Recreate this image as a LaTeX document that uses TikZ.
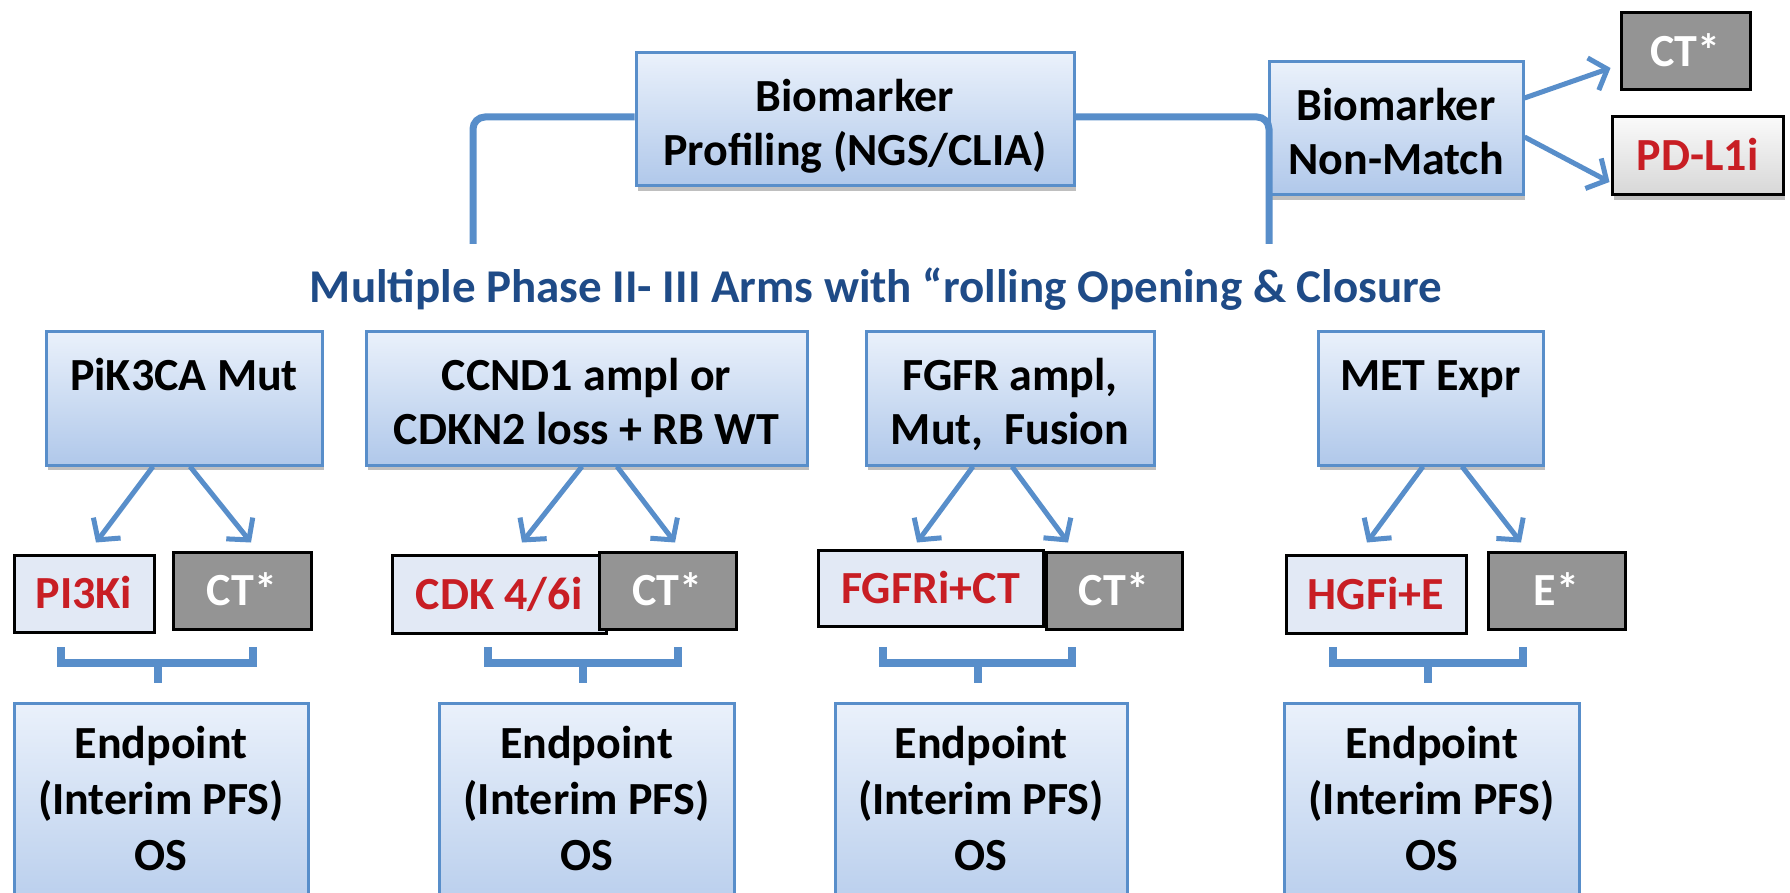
\documentclass[tikz,border=0pt]{standalone}
\usepackage{fontspec}
\setmainfont{Carlito}
\usetikzlibrary{arrows.meta,shadows,calc}
\definecolor{lnblue}{RGB}{88,142,202}
\definecolor{bxtop}{RGB}{234,241,251}
\definecolor{bxbot}{RGB}{176,200,234}
\definecolor{drugred}{RGB}{200,30,36}
\definecolor{armgray}{RGB}{148,148,148}
\definecolor{lightfill}{RGB}{226,233,245}
\definecolor{titleblue}{RGB}{31,75,135}
\definecolor{pdtop}{RGB}{250,250,250}
\definecolor{pdbot}{RGB}{215,215,215}
\newcommand\ls{\rule[-12pt]{0pt}{62pt}}
\newcommand\sls{\rule[-10pt]{0pt}{50pt}}
\newcommand\brkt[3]{%
  \draw[brk] (#1,647) |- (#2,663) -- (#2,647);
  \draw[brk] (#3,663) -- (#3,683);}
\tikzset{
  bigfont/.style={font=\bfseries\fontsize{46}{54}\selectfont},
  epfont/.style={font=\bfseries\fontsize{46}{56}\selectfont},
  shd/.style={drop shadow={shadow xshift=2pt, shadow yshift=-5pt, fill=black!55, opacity=0.45}},
  bluebox/.style={draw=lnblue, line width=3pt, top color=bxtop, bottom color=bxbot,
    inner sep=0pt, align=center, bigfont, shd},
  epbox/.style={bluebox, epfont},
  drugbox/.style={draw=black, line width=3pt, fill=lightfill, text=drugred,
    inner sep=0pt, align=center, bigfont},
  ctlbox/.style={draw=black, line width=3pt, fill=armgray, text=white,
    inner sep=0pt, align=center, bigfont},
  pdbox/.style={draw=black, line width=3pt, top color=pdtop, bottom color=pdbot, text=drugred,
    inner sep=0pt, align=center, bigfont, shd},
  conn/.style={draw=lnblue, line width=7pt},
  arr/.style={draw=lnblue, line width=5pt, -{Straight Barb[length=15pt,width=34pt]}},
  brk/.style={draw=lnblue, line width=8pt},
  ttl/.style={text=titleblue, font=\bfseries\fontsize{47}{54}\selectfont, inner sep=0pt},
}
\begin{document}
\lineskiplimit=-1000pt\relax
\begin{tikzpicture}[x=1pt,y=-1pt]
\useasboundingbox (0,0) rectangle (1790,893);
\clip (0,0) rectangle (1790,893);
\fill[white] (0,0) rectangle (1790,893);

% top row
\node[bluebox, minimum width=438pt, minimum height=133pt] (prof) at (855,119.5)
  {Biomarker\ls\\Profiling (NGS/CLIA)\ls};
\node[bluebox, minimum width=254pt, minimum height=133pt] (nonm) at (1396,128.5)
  {Biomarker\ls\\Non-Match\ls};
\node[ctlbox, minimum width=129pt, minimum height=77pt] (cttop) at (1685.5,51.5) {CT*\sls};
\node[pdbox, minimum width=171pt, minimum height=78pt] (pdl) at (1697.5,156) {PD-L1i\sls};

% title
\node[ttl, anchor=base] (title) at (876,302)
  {Multiple Phase II- III Arms with “rolling Opening \& Closure};

% arm boxes
\node[bluebox, minimum width=276pt, minimum height=134pt] (pik) at (184,398)
  {PiK3CA Mut\ls\\\ls};
\node[bluebox, minimum width=441pt, minimum height=134pt] (ccnd) at (586.5,398)
  {CCND1 ampl or\ls\\CDKN2 loss + RB WT\ls};
\node[bluebox, minimum width=288pt, minimum height=134pt] (fgfr) at (1010,398)
  {FGFR ampl,\ls\\Mut,\ \ Fusion\ls};
\node[bluebox, minimum width=225pt, minimum height=134pt] (met) at (1430.5,398)
  {MET Expr\ls\\\ls};

% treatment boxes
\node[drugbox, minimum width=140pt, minimum height=77pt] (pi3k) at (84,593.5) {PI3Ki\sls};
\node[ctlbox, minimum width=138pt, minimum height=77pt] (ct1) at (242,590.5) {CT*\sls};
\node[drugbox, minimum width=214pt, minimum height=78pt] (cdk) at (499,594) {CDK 4/6i\sls};
\node[ctlbox, minimum width=137pt, minimum height=77pt] (ct2) at (667.5,590.5) {CT*\sls};
\node[drugbox, minimum width=225pt, minimum height=76pt] (fgfri) at (930.5,588) {FGFRi+CT\sls};
\node[ctlbox, minimum width=136pt, minimum height=77pt] (ct3) at (1114,590.5) {CT*\sls};
\node[drugbox, minimum width=180pt, minimum height=78pt] (hgfi) at (1376,594) {HGFi+E\sls};
\node[ctlbox, minimum width=137pt, minimum height=77pt] (estar) at (1556.5,590.5) {E*\sls};

% endpoint boxes
\node[epbox, minimum width=294pt, minimum height=240pt] (ep1) at (161,823)
  {Endpoint\ls\\(Interim PFS)\ls\\OS\ls\\\ls};
\node[epbox, minimum width=295pt, minimum height=240pt] (ep2) at (586.5,823)
  {Endpoint\ls\\(Interim PFS)\ls\\OS\ls\\\ls};
\node[epbox, minimum width=292pt, minimum height=240pt] (ep3) at (981,823)
  {Endpoint\ls\\(Interim PFS)\ls\\OS\ls\\\ls};
\node[epbox, minimum width=295pt, minimum height=240pt] (ep4) at (1431.5,823)
  {Endpoint\ls\\(Interim PFS)\ls\\OS\ls\\\ls};

% profiling connectors
\coordinate (lend) at (473,244);
\coordinate (rend) at (1269,244);
\draw[conn, rounded corners=12pt] ($(prof.west)+(0,-2.5)$) -| (lend);
\draw[conn, rounded corners=12pt] ($(prof.east)+(0,-2.5)$) -| (rend);

% non-match arrows
\draw[arr] ($(nonm.east)+(0,-30.5)$) -- ($(cttop.west)+(-9,16.5)$);
\draw[arr] ($(nonm.east)+(0,8.5)$) -- ($(pdl.west)+(-1,26)$);

% arm arrows
\draw[arr] ($(pik.south)+(-31,0)$) -- ($(pi3k.north)+(12,-11)$);
\draw[arr] ($(pik.south)+(6,0)$) -- ($(ct1.north)+(9,-8)$);
\draw[arr] ($(ccnd.south)+(-4.5,0)$) -- ($(cdk.north)+(23,-11)$);
\draw[arr] ($(ccnd.south)+(30.5,0)$) -- ($(ct2.north)+(7.5,-8)$);
\draw[arr] ($(fgfr.south)+(-37,0)$) -- ($(fgfri.north)+(-13.5,-6)$);
\draw[arr] ($(fgfr.south)+(2,0)$) -- ($(ct3.north)+(-46,-8)$);
\draw[arr] ($(met.south)+(-7.5,0)$) -- ($(hgfi.north)+(-9,-11)$);
\draw[arr] ($(met.south)+(31.5,0)$) -- ($(estar.north)+(-35.5,-8)$);

% brackets
\brkt{61}{253}{158}
\brkt{488}{678}{583}
\brkt{883}{1072}{978}
\brkt{1333}{1523}{1428}
\end{tikzpicture}
\end{document}
